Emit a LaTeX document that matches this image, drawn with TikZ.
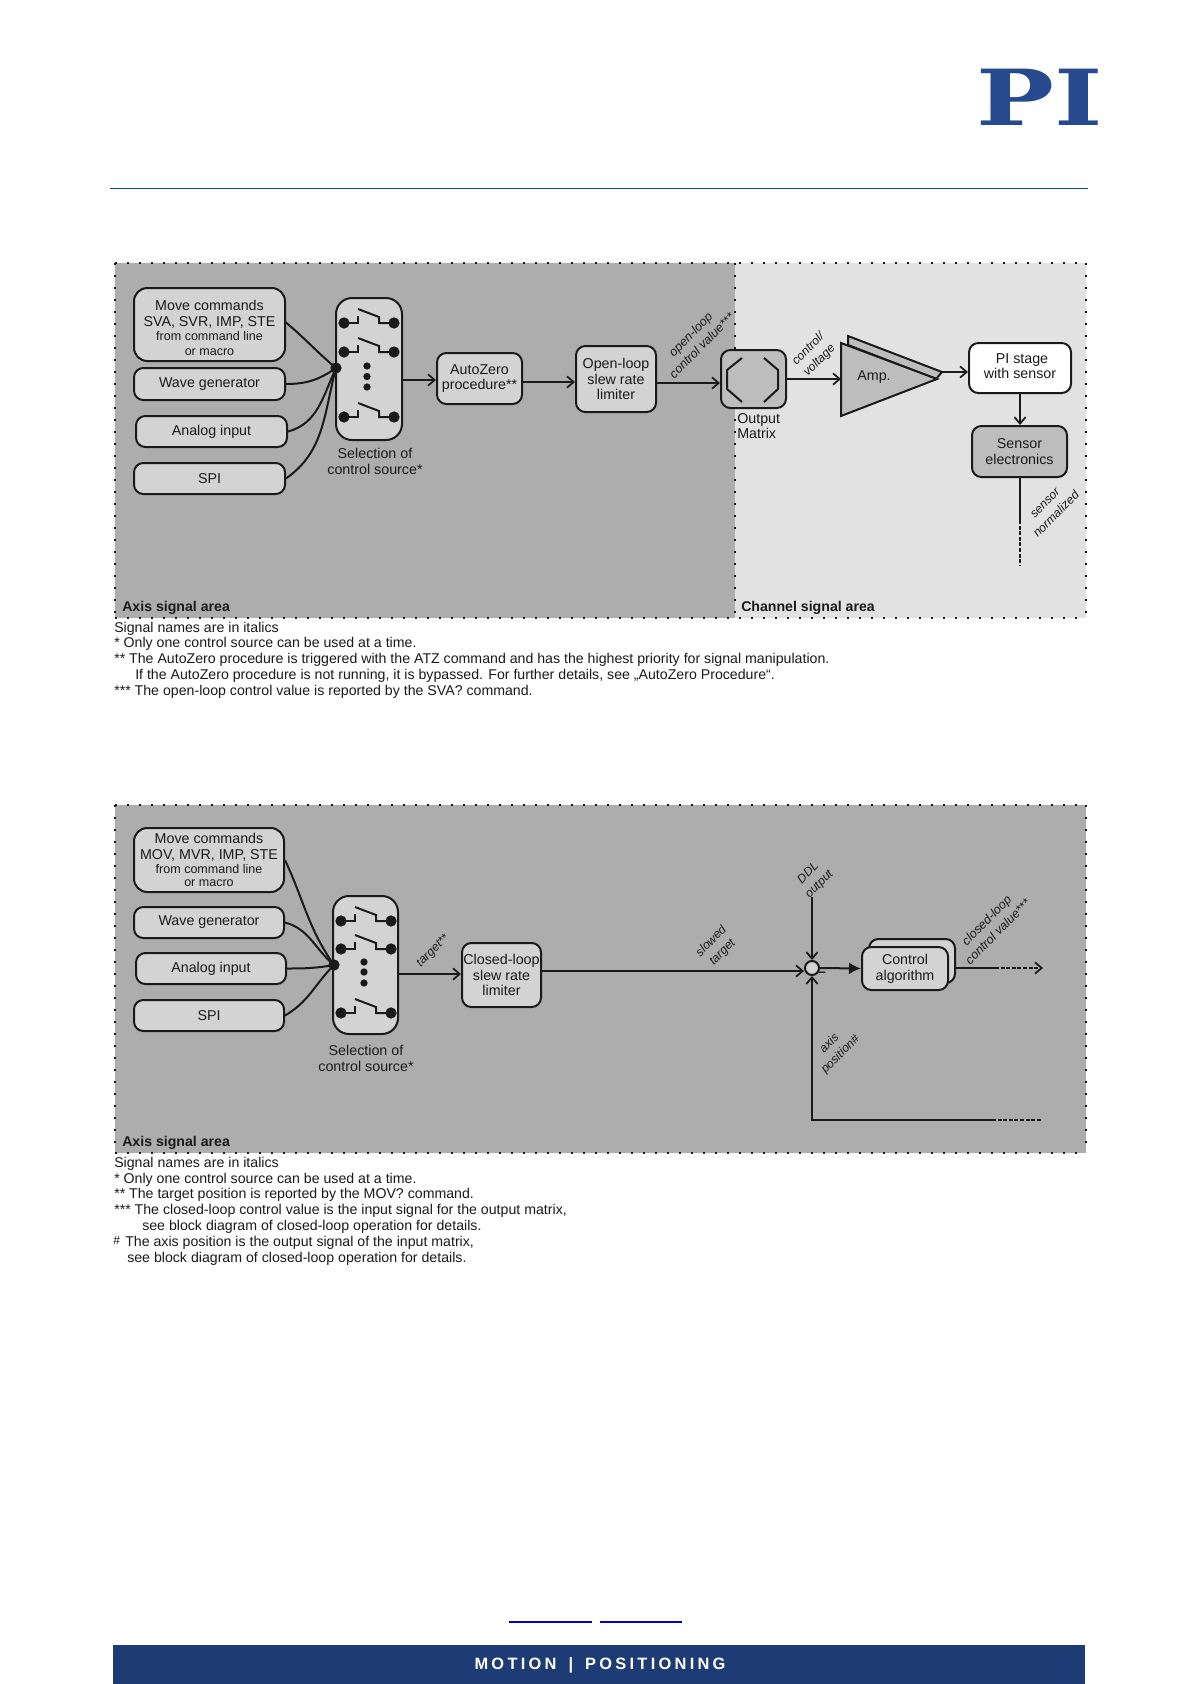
\documentclass[tikz,border=0pt]{standalone}
\usepackage{fontspec}
\setmainfont{Liberation Sans}
\newfontfamily\logofont{DejaVu Serif}
\usetikzlibrary{arrows.meta,calc}
\definecolor{panelD}{HTML}{ADADAD}
\definecolor{panelL}{HTML}{E2E2E2}
\definecolor{boxF}{HTML}{D3D3D3}
\definecolor{boxM}{HTML}{BDBDBD}
\definecolor{ink}{HTML}{1A1A1A}
\definecolor{piblue}{HTML}{274A8E}
\definecolor{footblue}{HTML}{1D3B75}
\definecolor{ruleC}{HTML}{0C5470}
\newcommand{\fsz}[1]{\fontsize{#1}{11.8}\selectfont}
\tikzset{
  x=0.75pt,y=-0.75pt,
  bx/.style={draw=ink,line width=1.5pt,rounded corners=7pt,fill=boxF,text=ink,align=center,inner sep=0pt,font=\fsz{10.7}},
  wire/.style={draw=ink,line width=1.5pt},
  arr/.style={wire,-{Straight Barb[length=5pt,width=8.5pt,line width=1.3pt]}},
  dash2/.style={draw=ink,line width=1.5pt,dash pattern=on 3pt off 1.2pt},
  dotline/.style={draw=ink,line width=1.3pt,dash pattern=on 1.5pt off 7.5pt},
  sig/.style={rotate=45,align=center,text=ink,font=\fsz{9.1}\itshape,inner sep=0pt},
  capt/.style={align=center,text=ink,font=\fsz{10.7},inner sep=0pt},
  area/.style={anchor=west,text=ink,font=\fsz{10.6}\bfseries,inner sep=0pt},
  note/.style={anchor=west,text=ink,font=\fsz{10.62},inner sep=0pt},
  jdot/.style={circle,fill=ink,inner sep=0pt,minimum size=8.5pt},
  bdot/.style={circle,fill=ink,inner sep=0pt,minimum size=5.5pt},
}
\newcommand{\swrow}[3]{%
  \node[jdot] (#3l) at (#1,#2) {};
  \node[jdot] (#3r) at ($(#1,#2)+(50,0)$) {};
  \draw[wire] (#3l.center) -- ++(14,0) -- ++(0,-7);
  \draw[wire] (#3r.center) -- ++(-15,0) -- ++(0,-6) -- ++(-21,-8);
}
\begin{document}
\begin{tikzpicture}
\useasboundingbox (0,0) rectangle (1191,1684);
\fill[white] (0,0) rectangle (1191,1684);
% header
\node[font=\logofont\bfseries\fontsize{58}{58}\selectfont,text=piblue,xscale=1.34,inner sep=0pt] (logo) at (1040,97) {PI};
\draw[ruleC,line width=1pt] (110,188.5) -- (1088,188.5);
% panel 1
\fill[panelD] (115,263) rectangle (735,618);
\fill[panelL] (735,263) rectangle (1086,618);
\draw[dotline] (115,263) -- (1086,263);
\draw[dotline] (115,618) -- (1086,618);
\draw[dotline] (115,263) -- (115,618);
\draw[dotline] (735,263) -- (735,618);
\draw[dotline] (1086,263) -- (1086,618);
% boxes
\node[bx,minimum width=113.25pt,minimum height=54.75pt,rounded corners=10pt] (a1) at (209.5,324.5) {\rule{0pt}{12.5pt}Move commands\\SVA, SVR, IMP, STE\\[-1pt]{\fsz{9.4}from command line}\\[-1pt]{\fsz{9.4}or macro}};
\node[bx,minimum width=113.25pt,minimum height=24pt] (a2) at (209.5,384) {Wave generator};
\node[bx,minimum width=113.25pt,minimum height=23.25pt] (a3) at (211.5,431.5) {Analog input};
\node[bx,minimum width=113.25pt,minimum height=23.25pt] (a4) at (209.5,478.5) {SPI};
\node[bx,minimum width=49.5pt,minimum height=106.5pt,rounded corners=12pt] (a5) at (369,369) {};
\node[jdot] (aj) at (336,368) {};
\swrow{344}{323}{as1}
\swrow{344}{352}{as2}
\swrow{344}{417}{as3}
\node[bdot] (ad1) at (367,366) {};
\node[bdot] (ad2) at (367,376.5) {};
\node[bdot] (ad3) at (367,387) {};
\draw[wire] (a1.east) ++(0,-2) to[out=-40,in=140] (aj.center);
\draw[wire] (a2.east) to[out=0,in=215] (aj.center);
\draw[wire] (a3.east) to[out=15,in=245] (aj.center);
\draw[wire] (a4.east) to[out=35,in=255] (aj.center);
\node[capt] (asel) at (375,461.5) {Selection of\\control source*};
\node[bx,minimum width=63.75pt,minimum height=38.25pt] (a6) at (479.5,378.5) {AutoZero\\procedure**};
\node[bx,minimum width=60pt,minimum height=49.5pt] (a7) at (616,379) {Open-loop\\slew rate\\limiter};
\node[bx,minimum width=48.75pt,minimum height=43.5pt,fill=boxM] (a8) at (753.5,379) {};
\draw[wire] (742,358) -- (727,370) -- (727,389) -- (742,402);
\draw[wire] (764,358) -- (778,370) -- (778,389) -- (764,402);
\node[capt,anchor=north west,align=left] (a8t) at (737,413) {Output\\Matrix};
\draw[arr] (a5.east |- 0,380) -- (a6.west |- 0,380);
\draw[arr] (a6.east |- 0,382) -- (a7.west |- 0,382);
\draw[arr] (a7.east |- 0,383) -- (a8.west |- 0,383);
\fill[boxM,draw=ink,line width=1.5pt] (848,336) -- (942,372) -- (936,379) -- (848,345) -- cycle;
\node[draw=none,inner sep=0pt] (amptip) at (942,372) {};
\fill[boxM,draw=ink,line width=1.5pt] (841,343) -- (937,379) -- (841,416) -- cycle;
\coordinate (ampin) at (841,379);
\node[text=ink,font=\fsz{10.7},inner sep=0pt] (amp) at (874,377.5) {Amp.};
\draw[arr] (a8.east |- ampin) -- (ampin);
\node[bx,minimum width=76.5pt,minimum height=37.5pt,fill=white] (a9) at (1020,368) {\hspace*{3pt}PI stage\\with sensor\rule[-3pt]{0pt}{3pt}};
\node[bx,minimum width=71.25pt,minimum height=38.25pt,fill=boxM] (a10) at (1019.5,451.5) {Sensor\\electronics};
\draw[arr] (amptip.center) -- (a9.west |- amptip);
\coordinate (s0) at (1020,0);
\draw[arr] (a9.south -| s0) -- (a10.north -| s0);
\coordinate (s1) at (1020,520);
\coordinate (s2) at (1020,565);
\draw[wire] (a10.south -| s1) -- (s1);
\draw[dash2] (s1) -- (s2);
\node[sig,font=\fsz{9.4}\itshape] (l1) at (696,340) {open-loop\\control value***};
\node[sig] (l2) at (814,355) {control/\\voltage};
\node[sig] (l3) at (1051,509) {sensor\\normalized};
\node[area] (ar1) at (122,607.5) {Axis signal area};
\node[area] (ar2) at (741,607.5) {Channel signal area};
% footnotes 1
\node[note] (n1) at (114,628.5) {Signal names are in italics};
\node[note] (n2) at (114,644) {* Only one control source can be used at a time.};
\node[note] (n3) at (114,660) {** The AutoZero procedure is triggered with the ATZ command and has the highest priority for signal manipulation.};
\node[note] (n4) at (135,676) {If the AutoZero procedure is not running, it is bypassed. For further details, see „AutoZero Procedure“.};
\node[note] (n5) at (114,692) {*** The open-loop control value is reported by the SVA? command.};
% panel 2
\fill[panelD] (115,805) rectangle (1086,1153);
\draw[dotline] (115,805) -- (1086,805);
\draw[dotline] (115,1153) -- (1086,1153);
\draw[dotline] (115,805) -- (115,1153);
\draw[dotline] (1086,805) -- (1086,1153);
\node[bx,minimum width=112.5pt,minimum height=48pt,rounded corners=10pt] (b1) at (209,860) {Move commands\\MOV, MVR, IMP, STE\\[-1pt]{\fsz{9.4}from command line}\\[-2pt]{\fsz{9.4}or macro}};
\node[bx,minimum width=112.5pt,minimum height=23.25pt] (b2) at (209,922.5) {Wave generator};
\node[bx,minimum width=112.5pt,minimum height=23.25pt] (b3) at (211,968.5) {Analog input};
\node[bx,minimum width=112.5pt,minimum height=23.25pt] (b4) at (209,1015.5) {SPI};
\node[bx,minimum width=48.75pt,minimum height=103.5pt,rounded corners=12pt] (b5) at (365.5,965) {};
\node[jdot] (bj) at (334,965) {};
\swrow{341}{921}{bs1}
\swrow{341}{949}{bs2}
\swrow{341}{1013}{bs3}
\node[bdot] (bd1) at (364,962) {};
\node[bdot] (bd2) at (364,972) {};
\node[bdot] (bd3) at (364,983) {};
\draw[wire] (b1.east) to[out=-65,in=125] (bj.center);
\draw[wire] (b2.east) to[out=-15,in=140] (bj.center);
\draw[wire] (b3.east) to[out=0,in=190] (bj.center);
\draw[wire] (b4.east) to[out=30,in=225] (bj.center);
\node[capt] (bsel) at (366,1058.5) {Selection of\\control source*};
\node[bx,minimum width=59.25pt,minimum height=48pt] (b6) at (501.5,975) {Closed-loop\\slew rate\\limiter};
\draw[arr] (b5.east |- 0,974) -- (b6.west |- 0,974);
\node[bx,circle,rounded corners=0pt,minimum size=10.5pt] (sum) at (812,968) {};
\coordinate (ddl) at (812,897);
\coordinate (fbk) at (812,1120);
\coordinate (fb1) at (992,1120);
\coordinate (fb2) at (1042,1120);
\draw[arr] (b6.east |- 0,971) -- (sum.west |- 0,971);
\draw[arr] (ddl) -- (sum.north);
\draw[arr] (fb1) -- (fbk) -- (sum.south);
\draw[dash2] (fb1) -- (fb2);
\node[bx,minimum width=64.5pt,minimum height=33pt] (b7b) at (912,961) {};
\node[bx,minimum width=64.5pt,minimum height=32.25pt] (b7) at (905,968.5) {Control\\algorithm};
\draw[wire,-{Latex[length=9pt,width=9pt]}] (sum.east) -- (b7.west);
\coordinate (o1) at (995,968);
\coordinate (o2) at (1043,968);
\draw[wire] (b7b.east |- o1) -- (o1);
\draw[dash2,-{Straight Barb[length=5pt,width=8.5pt,line width=1.3pt]}] (o1) -- (o2);
\node[text=ink,font=\fsz{10.5}\bfseries,inner sep=0pt] (minus) at (822,974) {–};
\node[sig] (l4) at (433,951) {target**};
\node[sig] (l5) at (717,947) {slowed\\target};
\node[sig] (l6) at (814,879) {DDL\\output};
\node[sig,font=\fsz{9.4}\itshape] (l7) at (992,926) {closed-loop\\control value***};
\node[sig] (l8) at (835,1049) {axis\\position\#};
\node[area] (ar3) at (122,1142.5) {Axis signal area};
% footnotes 2
\node[note] (m1) at (114,1164) {Signal names are in italics};
\node[note] (m2) at (114,1180) {* Only one control source can be used at a time.};
\node[note] (m3) at (114,1195) {** The target position is reported by the MOV? command.};
\node[note] (m4) at (114,1211) {*** The closed-loop control value is the input signal for the output matrix,};
\node[note] (m5) at (142,1227) {see block diagram of closed-loop operation for details.};
\node[note,font=\fsz{9}] (m6a) at (113,1240) {\#};
\node[note] (m6) at (125,1243) {The axis position is the output signal of the input matrix,};
\node[note] (m7) at (127,1259) {see block diagram of closed-loop operation for details.};
% footer
\draw[blue!80!black,line width=0.8pt] (509,1622) -- (592,1622);
\draw[blue!80!black,line width=0.8pt] (600,1622) -- (682,1622);
\fill[footblue] (113,1645) rectangle (1085,1684);
\node[text=white,font=\fsz{12.3}\bfseries,inner sep=0pt] (ft) at (600,1665.5) {\addfontfeature{LetterSpace=20}MOTION\hspace{9pt}|\hspace{9pt}POSITIONING};
\end{tikzpicture}
\end{document}
